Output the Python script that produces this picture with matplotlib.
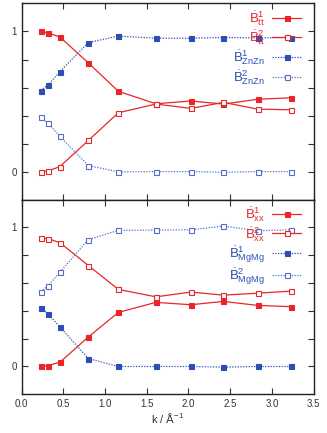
import numpy as np
import matplotlib
matplotlib.use("Agg")
import matplotlib.pyplot as plt

# ---- data ----
k = [0.23, 0.32, 0.46, 0.80, 1.16, 1.61, 2.03, 2.42, 2.83, 3.23]

# top panel
b1_tt = [1.00, 0.99, 0.96, 0.776, 0.573, 0.484, 0.504, 0.482, 0.516, 0.527]
b2_tt = [0.00, 0.005, 0.036, 0.222, 0.420, 0.482, 0.451, 0.494, 0.446, 0.441]
b1_znzn = [0.578, 0.620, 0.714, 0.921, 0.967, 0.952, 0.952, 0.957, 0.955, 0.957]
b2_znzn = [0.387, 0.344, 0.251, 0.043, -0.002, 0.0, 0.0, -0.005, 0.0, 0.0]

# bottom panel
b1_xx = [0.00, 0.007, 0.031, 0.212, 0.389, 0.461, 0.444, 0.468, 0.439, 0.430]
b2_xx = [0.924, 0.919, 0.890, 0.726, 0.554, 0.501, 0.535, 0.513, 0.527, 0.542]
b1_mgmg = [0.422, 0.377, 0.284, 0.057, 0.0, 0.0, 0.0, -0.005, 0.0, 0.0]
b2_mgmg = [0.537, 0.582, 0.678, 0.912, 0.979, 0.981, 0.983, 1.010, 0.976, 0.983]

RED = "#e8262a"
BLUE = "#2d4fb5"
BLUE_OPEN = "#5a6cc8"

plt.rcParams["font.family"] = ["Liberation Sans", "DejaVu Sans"]
plt.rcParams["mathtext.fontset"] = "dejavusans"
plt.rcParams["mathtext.default"] = "regular"


def red_solid(ax, x, y, filled, label):
    ax.plot(x, y, "-", color=RED, lw=0.9, marker="s", ms=3.6,
            mfc=RED if filled else "white", mec=RED, mew=0.8, label=label)


def blue_dotted(ax, x, y, filled, label):
    c = BLUE if filled else BLUE_OPEN
    ax.plot(x, y, color=c, lw=0.9, ls=(0, (1, 1.2)), marker="s", ms=3.6,
            mfc=c if filled else "white", mec=c, mew=0.8, label=label)


def style_axes(ax, show_xlabels):
    ax.set_xlim(0, 3.5)
    ax.set_ylim(-0.2, 1.2)
    ax.set_xticks(np.arange(0, 3.51, 0.5))
    ax.set_yticks(np.arange(0, 1.01, 0.2))
    ax.set_yticklabels(["0", "", "", "", "", "1"])
    ax.tick_params(direction="in", top=True, right=True, length=4,
                   width=0.8, labelsize=7, colors="#333333")
    if not show_xlabels:
        ax.tick_params(labelbottom=False)
    for s in ax.spines.values():
        s.set_linewidth(1.0)
        s.set_color("#222222")


def add_legend(ax, colors):
    leg = ax.legend(loc="upper right", bbox_to_anchor=(0.975, 1.0),
                    frameon=False, markerfirst=False,
                    fontsize=9.5, handlelength=2.2, labelspacing=0.05,
                    borderaxespad=0.1, borderpad=0.3, handletextpad=0.5)
    for t, c in zip(leg.get_texts(), colors):
        t.set_color(c)


fig = plt.figure(figsize=(3.27, 4.33), dpi=100)
ax1 = fig.add_axes([0.066, 0.539, 0.893, 0.453])
ax2 = fig.add_axes([0.066, 0.0894, 0.893, 0.4496])

red_solid(ax1, k, b1_tt, True, r"$\dot{B}^1_{tt}$")
red_solid(ax1, k, b2_tt, False, r"$\dot{B}^2_{tt}$")
blue_dotted(ax1, k, b1_znzn, True, r"$\dot{B}^1_{ZnZn}$")
blue_dotted(ax1, k, b2_znzn, False, r"$\dot{B}^2_{ZnZn}$")
style_axes(ax1, False)
add_legend(ax1, [RED, RED, BLUE, BLUE])

red_solid(ax2, k, b1_xx, True, r"$\dot{B}^1_{xx}$")
red_solid(ax2, k, b2_xx, False, r"$\dot{B}^2_{xx}$")
blue_dotted(ax2, k, b1_mgmg, True, r"$\dot{B}^1_{MgMg}$")
blue_dotted(ax2, k, b2_mgmg, False, r"$\dot{B}^2_{MgMg}$")
style_axes(ax2, True)
add_legend(ax2, [RED, RED, BLUE, BLUE])
ax2.set_xlabel(r"k / $\mathrm{\AA}^{-1}$", fontsize=8, labelpad=1,
               color="#333333")

fig.savefig("out.png", dpi=100)
